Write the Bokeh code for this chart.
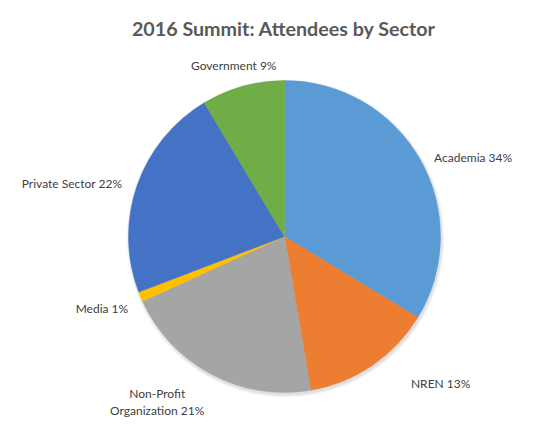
import math
from bokeh.plotting import figure
from bokeh.models import Range1d, ColumnDataSource
from bokeh.core.properties import value
from bokeh.embed import file_html
from bokeh.resources import INLINE

# ---- data ----
sectors = ["Academia", "NREN", "Non-Profit Organization", "Media", "Private Sector", "Government"]
shares = [33.7, 13.6, 20.9, 1.0, 22.2, 8.6]
label_texts = ["Academia 34%", "NREN 13%", "Non-Profit\nOrganization 21%", "Media 1%",
               "Private Sector 22%", "Government 9%"]
colors = ["#5B9BD5", "#ED7D31", "#A5A5A5", "#FFC000", "#4472C4", "#70AD47"]
title_text = "2016 Summit: Attendees by Sector"

# ---- layout (pixel-like data coords) ----
W, H = 551, 444
cx, cy, R = 284, 208, 156

p = figure(width=W, height=H, output_backend="svg", toolbar_location=None,
           x_range=Range1d(0, W), y_range=Range1d(0, H), min_border=0,
           outline_line_color=None, background_fill_color="white")
p.axis.visible = False
p.grid.visible = False

total = sum(shares)
starts, ends, mids = [], [], []
cum = 0.0
for s in shares:
    a0 = math.pi / 2 - 2 * math.pi * cum / total
    cum += s
    a1 = math.pi / 2 - 2 * math.pi * cum / total
    starts.append(a0)
    ends.append(a1)
    mids.append((a0 + a1) / 2)

# soft shadow
for i, a in enumerate([0.05, 0.04, 0.03]):
    p.circle(x=[cx + 1], y=[cy - 2], radius=R + 1 + i, fill_color="black",
             fill_alpha=a, line_color=None)

src = ColumnDataSource(dict(start=starts, end=ends, color=colors, sector=sectors))
p.wedge(x=cx, y=cy, radius=R, start_angle="start", end_angle="end", direction="clock",
        fill_color="color", line_color="color", line_width=0.5, source=src)

# labels
LR = R * 1.1
aligns = ["left", "left", "center", "right", "right", "center"]
dxs = [0, 30, -47, 2, 0, -5]
dys = [5.5, 5.5, 13.5, 5.5, 3, -6]
lx = [cx + LR * math.cos(m) for m in mids]
ly = [cy + LR * math.sin(m) for m in mids]
lsrc = ColumnDataSource(dict(x=lx, y=ly, text=label_texts, align=aligns, dx=dxs, dy=dys))
p.text(x="x", y="y", text="text", text_align="align", text_baseline="middle",
       x_offset="dx", y_offset="dy", text_font=value("Lato"), text_font_size="12px",
       text_color="#404040", text_line_height=1.12, source=lsrc)

# title
p.text(x=[W / 2 + 8], y=[H - 28], text=[title_text], text_align="center",
       text_baseline="middle", text_font=value("Lato"), text_font_size="19.7px",
       text_font_style="bold", text_color="#595959")

open("out.html", "w").write(file_html(p, INLINE))
